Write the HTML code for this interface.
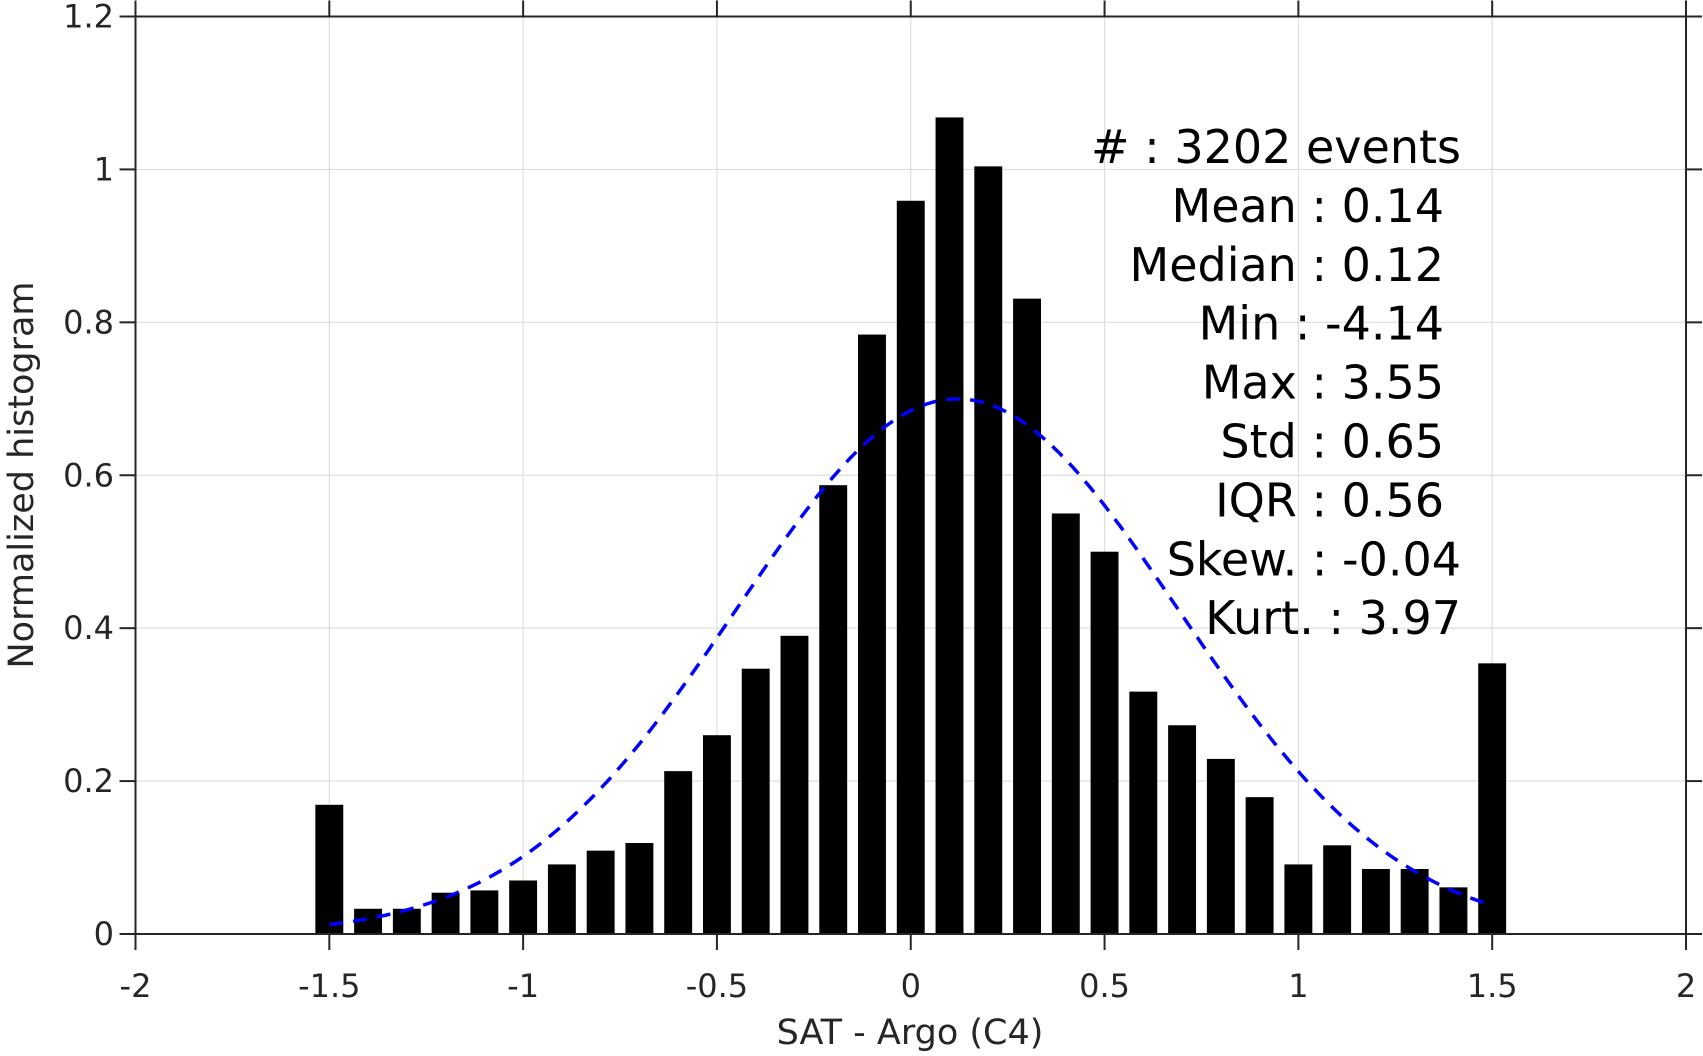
<!DOCTYPE html>
<html><head><meta charset="utf-8"><style>
html,body{margin:0;padding:0;background:#fff;}
svg{display:block;font-family:"DejaVu Sans","Liberation Sans",sans-serif;}
</style></head><body>
<svg id="chart" width="1703" height="1056" viewBox="0 0 1703 1056">
<g id="grid"></g>
<g id="bars"></g>
<path id="fit" fill="none" stroke="#0000ff" stroke-width="3.5" stroke-dasharray="14,10"></path>
<g id="axes"></g>
<g id="stats" font-size="46" fill="#000" text-anchor="end"></g>
<text x="910" y="1044" font-size="35" fill="#262626" text-anchor="middle">SAT - Argo (C4)</text>
<text transform="translate(33,475) rotate(-90)" font-size="35" fill="#262626" text-anchor="middle">Normalized histogram</text>
</svg>
<script>
const binCenters=[-1.5,-1.4,-1.3,-1.2,-1.1,-1.0,-0.9,-0.8,-0.7,-0.6,-0.5,-0.4,-0.3,-0.2,-0.1,0,0.1,0.2,0.3,0.4,0.5,0.6,0.7,0.8,0.9,1.0,1.1,1.2,1.3,1.4,1.5];
const binHeights=[0.169,0.033,0.033,0.054,0.057,0.07,0.091,0.109,0.119,0.213,0.26,0.347,0.39,0.587,0.784,0.959,1.068,1.004,0.831,0.55,0.5,0.317,0.273,0.229,0.179,0.091,0.116,0.085,0.085,0.061,0.354];
const fitMean=[0.12];
const fitStd=[0.57];
const xTicks=[-2,-1.5,-1,-0.5,0,0.5,1,1.5,2];
const xTickLabels=["-2","-1.5","-1","-0.5","0","0.5","1","1.5","2"];
const yTicks=[0,0.2,0.4,0.6,0.8,1,1.2];
const yTickLabels=["0","0.2","0.4","0.6","0.8","1","1.2"];
const statLines=["#  : 3202 events","Mean : 0.14","Median : 0.12","Min : -4.14","Max : 3.55","Std : 0.65","IQR : 0.56","Skew. : -0.04","Kurt. : 3.97"];
const statRight=[1461,1444,1444,1444,1444,1444,1444,1461,1461];

const NS="http://www.w3.org/2000/svg";
const L=135.5,R=1686,T=16.5,B=934;
const X=v=>L+(v+2)/4*(R-L);
const Y=v=>B-v/1.2*(B-T);
function mk(tag,attrs,parent){const e=document.createElementNS(NS,tag);for(const k in attrs)e.setAttribute(k,attrs[k]);parent.appendChild(e);return e;}
const grid=document.getElementById('grid'),bars=document.getElementById('bars'),axes=document.getElementById('axes'),stats=document.getElementById('stats');
xTicks.forEach(t=>{const l=mk('line',{x1:X(t),x2:X(t),y1:T,y2:B,stroke:'#dedede','stroke-width':1.2},grid);

});
yTicks.forEach(t=>{const l=mk('line',{x1:L,x2:R,y1:Y(t),y2:Y(t),stroke:'#dedede','stroke-width':1.2},grid);

});
const bw=(X(0.1)-X(0))*0.72;
binCenters.forEach((c,i)=>{const r=mk('rect',{x:X(c)-bw/2,y:Y(binHeights[i]),width:bw,height:B-Y(binHeights[i]),fill:'#000'},bars);

});
let d='';for(let k=0;k<=150;k++){const x=-1.5+3*k/150;const y=Math.exp(-0.5*((x-fitMean[0])/fitStd[0])**2)/(fitStd[0]*Math.sqrt(2*Math.PI));d+=(k?'L':'M')+X(x).toFixed(1)+','+Y(y).toFixed(1);}
document.getElementById('fit').setAttribute('d',d);
mk('rect',{x:L,y:T,width:R-L,height:B-T,fill:'none',stroke:'#262626','stroke-width':2},axes);
xTicks.forEach((t,i)=>{mk('line',{x1:X(t),x2:X(t),y1:B,y2:B+16,stroke:'#262626','stroke-width':2},axes);
mk('line',{x1:X(t),x2:X(t),y1:T,y2:T-16,stroke:'#262626','stroke-width':2},axes);
const tx=mk('text',{x:X(t),y:997,'font-size':32,fill:'#262626','text-anchor':'middle'},axes);tx.textContent=xTickLabels[i];

});
yTicks.forEach((t,i)=>{mk('line',{x1:L-16,x2:L,y1:Y(t),y2:Y(t),stroke:'#262626','stroke-width':2},axes);
mk('line',{x1:R,x2:R+16,y1:Y(t),y2:Y(t),stroke:'#262626','stroke-width':2},axes);
const tx=mk('text',{x:114,y:Y(t)+11,'font-size':32,fill:'#262626','text-anchor':'end'},axes);tx.textContent=yTickLabels[i];

});
statLines.forEach((s,i)=>{const tx=mk('text',{x:statRight[i],y:163+i*58.9},stats);tx.textContent=s;

});
</script>
</body></html>
